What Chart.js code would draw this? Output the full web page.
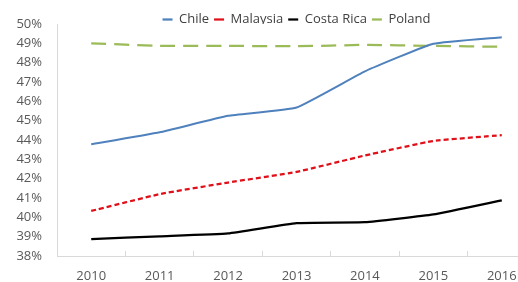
<!DOCTYPE html>
<html>
<head>
<meta charset="utf-8">
<script src="https://cdn.jsdelivr.net/npm/chart.js@4/dist/chart.umd.min.js"></script>
<style>
html,body{margin:0;padding:0;background:#fff;overflow:hidden;width:518px;height:282px;}
#wrap{width:536px;height:282px;}
</style>
</head>
<body>
<div id="wrap"><canvas id="c" width="536" height="282"></canvas></div>
<script>
const years = ['2010','2011','2012','2013','2014','2015','2016'];
const chile = [43.78, 44.4, 45.25, 45.68, 47.55, 48.98, 49.32];
const malaysia = [40.33, 41.2, 41.8, 42.35, 43.2, 43.95, 44.25];
const costaRica = [38.87, 39.02, 39.17, 39.7, 39.75, 40.15, 40.88];
const poland = [49.0, 48.87, 48.87, 48.85, 48.92, 48.87, 48.82];
const yMin = 38, yMax = 50;

const FONT = "'Open Sans', 'Noto Sans', sans-serif";

new Chart(document.getElementById('c'), {
  type: 'line',
  data: {
    labels: years,
    datasets: [
      {label:'Chile', data: chile, borderColor:'#4F81BD', backgroundColor:'#4F81BD', borderWidth:2},
      {label:'Malaysia', data: malaysia, borderColor:'#E0101A', backgroundColor:'#E0101A', borderWidth:2.25, borderDash:[5,3]},
      {label:'Costa Rica', data: costaRica, borderColor:'#000000', backgroundColor:'#000000', borderWidth:2.25},
      {label:'Poland', data: poland, borderColor:'#9BBB59', backgroundColor:'#9BBB59', borderWidth:2.25, borderDash:[15,8]}
    ]
  },
  options: {
    responsive: false,
    animation: false,
    events: [],
    layout: {padding: {top: 8, left: 0, right: 0, bottom: 0}},
    elements: {point: {radius: 0}, line: {tension: 0.12, fill: false}},
    plugins: {
      tooltip: {enabled: false},
      legend: {
        position: 'top',
        fullSize: false,
        maxHeight: 16,
        labels: {
          usePointStyle: true,
          pointStyle: 'line',
          pointStyleWidth: 10,
          padding: 5,
          color: '#404040',
          font: {family: FONT, size: 13},
          generateLabels: chart => {
            const items = Chart.defaults.plugins.legend.labels.generateLabels(chart);
            items.forEach(it => {
              it.lineWidth = 2.25;
              it.pointStyle = 'line';
              if (it.lineDash && it.lineDash.length) {
                it.lineDash = it.lineDash[0] > 10 ? [] : [4, 2];
              }
            });
            return items;
          }
        }
      }
    },
    scales: {
      x: {
        type: 'category',
        offset: true,
        grid: {display: true, drawOnChartArea: false, offset: true, tickLength: -5, color: '#D9D9D9'},
        border: {display: true, color: '#D9D9D9', width: 1},
        ticks: {color: '#595959', font: {family: FONT, size: 13}, padding: 17, maxRotation: 0},
        afterFit: s => { s.height = 26; }
      },
      y: {
        min: yMin, max: yMax,
        grid: {display: true, drawOnChartArea: false, drawTicks: true, tickLength: 13, color: 'rgba(0,0,0,0)'},
        border: {display: true, color: '#D9D9D9', width: 1},
        ticks: {stepSize: 1, color: '#595959', font: {family: FONT, size: 13}, padding: 2,
          callback: v => Math.round(v) + '%'},
        afterFit: s => { s.width = 57; }
      }
    }
  }
});
</script>
</body>
</html>
